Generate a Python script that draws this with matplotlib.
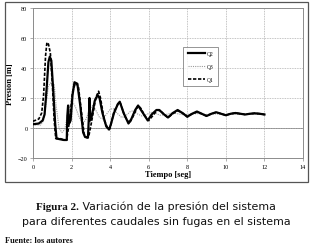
import matplotlib
matplotlib.use("Agg")
import matplotlib.pyplot as plt
from matplotlib.patches import Rectangle

# Data (time in s, pressure in m)
t_q2 = [0.0, 0.3, 0.5, 0.6, 0.7, 0.8, 0.87, 0.95, 1.05, 1.15, 1.22, 1.4, 1.6, 1.75, 1.78, 1.82, 1.87,
        1.95, 2.05, 2.15, 2.3, 2.45, 2.6, 2.7, 2.85, 2.9, 2.93, 2.97, 3.05, 3.2, 3.35, 3.45, 3.6, 3.8,
        3.95, 4.05, 4.2, 4.4, 4.5, 4.7, 4.95, 5.1, 5.3, 5.45, 5.7, 5.95, 6.15, 6.4, 6.55, 6.8, 7.0,
        7.25, 7.5, 7.75, 8.0, 8.25, 8.5, 8.75, 9.0, 9.25, 9.5, 9.75, 10.0, 10.25, 10.5, 10.75, 11.0,
        11.25, 11.5, 11.75, 12.0]
p_q2 = [2.5, 3, 5, 9, 25, 44, 47.5, 45, 25, 3, -7, -7.5, -8, -8, 8, 15, 3,
        5, 22, 30.5, 29.5, 15, -3, -6, -6.5, 8, 20, 5, 8, 18, 22, 20, 10, 1,
        -1, 3, 10, 16, 17.5, 10, 3, 6, 12, 15, 10, 5, 9, 12, 12, 9, 7,
        10, 12, 10, 7.5, 9.5, 11, 9.5, 8, 9.5, 10.5, 9.5, 8.5, 9.5, 10, 9.5, 9,
        9.5, 9.8, 9.5, 9]

t_q3 = [0.0, 0.4, 0.55, 0.7, 0.8, 0.9, 1.1, 1.2, 1.35, 1.5, 1.65, 1.8, 1.95, 2.05, 2.2, 2.4, 2.6,
        2.75, 2.95, 3.1, 3.25, 3.45, 3.6, 3.8, 4.0, 4.15, 4.35, 4.6, 4.8, 5.05, 5.2, 5.4, 5.65,
        5.9, 6.1, 6.3, 6.6, 6.9, 7.2, 7.5, 7.8, 8.1, 8.5, 9.0, 9.5, 10.0, 10.5, 11.0, 11.5, 12.0]
p_q3 = [2, 2, 5, 18, 28, 30, 29, 15, 0, -3, -1, 10, 16, 17.5, 14, 7, 3,
        6, 13, 15, 12, 7, 6, 9, 12.5, 13, 10, 7, 8, 11, 11.5, 9.5, 8,
        9, 10.5, 10, 8.5, 9, 10, 9.5, 8.8, 9.2, 9.6, 9.0, 9.4, 9.1, 9.3, 9.0, 9.2, 9.0]

t_q1 = [0.0, 0.3, 0.45, 0.55, 0.65, 0.72, 0.8, 0.9, 1.0, 1.1, 1.18, 1.4, 1.6, 1.75, 1.8, 1.9,
        2.05, 2.2, 2.35, 2.5, 2.65, 2.8, 2.9, 3.05, 3.25, 3.4, 3.5, 3.7, 3.9, 4.0, 4.2, 4.45,
        4.55, 4.75, 5.0, 5.2, 5.45, 5.6, 5.8, 6.0, 6.2, 6.45, 6.6, 6.8, 7.0, 7.25, 7.5, 7.75,
        8.0, 8.25, 8.5, 8.75, 9.0, 9.25, 9.5, 9.75, 10.0, 10.25, 10.5, 10.75, 11.0, 11.25, 11.5,
        11.75, 12.0]
p_q1 = [4.5, 6, 10, 22, 48, 57, 56, 50, 30, 5, -7, -7, -8, -8, -3, 5,
        24, 30, 28, 12, -4, -6.5, -5, 5, 20, 24.5, 20, 5, -1, 0, 11, 17,
        16, 8, 3, 8, 15, 13, 8, 5, 8, 12, 11.5, 9, 7, 9.5, 11.5, 10,
        7.5, 9.5, 10.5, 9.5, 8, 9.5, 10.5, 9.5, 8.5, 9.5, 10, 9.5, 9, 9.5, 9.8,
        9.5, 9]

x_ticks = [0, 2, 4, 6, 8, 10, 12, 14]
y_ticks = [-20, 0, 20, 40, 60, 80]

W, H = 312, 253
fig = plt.figure(figsize=(W / 100, H / 100), dpi=100)
fig.patch.set_facecolor("white")

# outer frame of the chart
fig.patches.append(Rectangle((5 / W, 1 - 183 / H), 303 / W, 180 / H, transform=fig.transFigure,
                             fill=False, edgecolor="#555555", linewidth=0.9))

ax = fig.add_axes([33 / W, 1 - 159 / H, 270 / W, 150 / H])
ax.set_xlim(0, 14)
ax.set_ylim(-20, 80)
ax.set_xticks(x_ticks)
ax.set_yticks(y_ticks)
ax.grid(True, color="#b0b0b0", linestyle=(0, (1, 1)), linewidth=0.6)
ax.axhline(0, color="#8c8c8c", linewidth=0.7, zorder=1)
for s in ax.spines.values():
    s.set_color("#8c8c8c")
    s.set_linewidth(0.7)
ax.tick_params(length=2, width=0.5, color="#8c8c8c", labelsize=4.5, pad=2)
for lab in ax.get_xticklabels() + ax.get_yticklabels():
    lab.set_family("Liberation Serif")

l2, = ax.plot(t_q2, p_q2, color="black", linewidth=1.6, label="Q2", zorder=3)
l3, = ax.plot(t_q3, p_q3, color="#9a9a9a", linewidth=0.8, linestyle=(0, (1, 1)), label="Q3", zorder=2)
l1, = ax.plot(t_q1, p_q1, color="black", linewidth=1.2, linestyle=(0, (2, 1)), label="Q1", zorder=4)

leg = ax.legend(handles=[l2, l3, l1], loc="upper left", bbox_to_anchor=(0.556, 0.74),
                frameon=True, fancybox=False, handlelength=3.2,
                borderpad=0.8, labelspacing=1.4, handletextpad=0.3, borderaxespad=0,
                prop={"family": "Liberation Serif", "size": 4})
leg.get_frame().set_edgecolor("#666666")
leg.get_frame().set_linewidth(0.6)

ax.set_xlabel("Tiempo [seg]", fontsize=6, fontweight="bold", family="Liberation Serif", labelpad=1)
ax.set_ylabel("Presión [m]", fontsize=6, fontweight="bold", family="Liberation Serif", labelpad=3)

# caption
fs = 7.9
y1 = 1 - 207 / H
ta = fig.text(0, y1, "Figura 2.", fontsize=fs, family="Liberation Serif", fontweight="bold",
              ha="left", va="center", color="#111111")
tb = fig.text(0, y1, " Variación de la presión del sistema", fontsize=fs, family="DejaVu Sans",
              ha="left", va="center", color="#111111")
fig.canvas.draw()
r = fig.canvas.get_renderer()
wa = ta.get_window_extent(r).width
wb = tb.get_window_extent(r).width
x0 = (W - wa - wb) / 2
ta.set_x(x0 / W)
tb.set_x((x0 + wa) / W)
fig.text(0.5, 1 - 222 / H, "para diferentes caudales sin fugas en el sistema", fontsize=fs,
         family="DejaVu Sans", ha="center", va="center", color="#111111")
fig.text(5 / W, 1 - 241 / H, "Fuente: los autores", fontsize=6, family="Liberation Serif",
         fontweight="bold", ha="left", va="center", color="#111111")

fig.savefig("out.png", dpi=100)
